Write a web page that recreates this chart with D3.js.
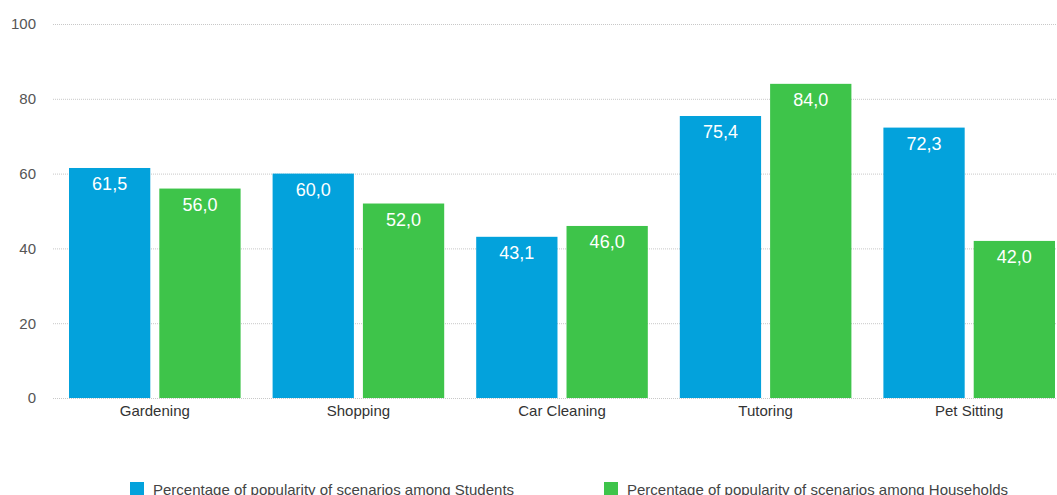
<!DOCTYPE html>
<html>
<head>
<meta charset="utf-8">
<script src="https://cdn.jsdelivr.net/npm/d3@7"></script>
<style>
  html, body { margin: 0; padding: 0; background: #fff; overflow: hidden; }
  svg { display: block; font-family: "Liberation Sans", Arial, Helvetica, sans-serif; }
</style>
</head>
<body>
<svg id="chart" width="1057" height="495"></svg>
<script>
const categories = ["Gardening", "Shopping", "Car Cleaning", "Tutoring", "Pet Sitting"];
const students = [61.5, 60.0, 43.1, 75.4, 72.3];
const households = [56.0, 52.0, 46.0, 84.0, 42.0];
const seriesNames = [
  "Percentage of popularity of scenarios among Students",
  "Percentage of popularity of scenarios among Households"
];
const colors = ["#03a2dc", "#3ec44a"];
const yTicks = [0, 20, 40, 60, 80, 100];

const svg = d3.select("#chart");
const plot = { left: 53, right: 1071, top: 24, bottom: 398 };

const x = d3.scaleBand().domain(categories).range([plot.left, plot.right]).paddingInner(0).paddingOuter(0);
const x1 = d3.scaleBand().domain([0, 1]).range([16, x.bandwidth() - 16]).paddingInner(0.1);
const y = d3.scaleLinear().domain([0, 100]).range([plot.bottom, plot.top]);

// gridlines
svg.append("g").selectAll("line").data(yTicks).join("line")
  .attr("x1", plot.left).attr("x2", 1057)
  .attr("y1", d => y(d) + 0.5).attr("y2", d => y(d) + 0.5)
  .attr("stroke", "#c8c8c8").attr("stroke-width", 1).attr("stroke-dasharray", "1,1");

// y axis labels
const yAxis = d3.axisLeft(y).tickValues(yTicks).tickSize(0).tickPadding(0);
const yg = svg.append("g").attr("transform", `translate(36,0)`).call(yAxis);
yg.select(".domain").remove();
yg.selectAll("text").attr("fill", "#555").style("font-size", "15px");

// x axis labels
const xAxis = d3.axisBottom(x).tickSize(0).tickPadding(0);
const xg = svg.append("g").attr("transform", `translate(0,${plot.bottom + 7})`).call(xAxis);
xg.select(".domain").remove();
xg.selectAll("text").attr("fill", "#333").style("font-size", "15px");

const rows = categories.map((c, i) => ({ c, vals: [students[i], households[i]] }));
const groups = svg.append("g").selectAll("g").data(rows).join("g")
  .attr("transform", d => `translate(${x(d.c)},0)`);

groups.selectAll("rect").data(d => d.vals.map((v, k) => ({ v, k }))).join("rect")
  .attr("x", d => x1(d.k))
  .attr("width", x1.bandwidth())
  .attr("y", d => y(d.v))
  .attr("height", d => y(0) - y(d.v))
  .attr("fill", d => colors[d.k]);

groups.selectAll("text.val").data(d => d.vals.map((v, k) => ({ v, k }))).join("text")
  .attr("class", "val")
  .attr("x", d => x1(d.k) + x1.bandwidth() / 2)
  .attr("y", d => y(d.v) + 22)
  .attr("text-anchor", "middle")
  .attr("fill", "#fff")
  .style("font-size", "18px")
  .text(d => d3.format(".1f")(d.v).replace(".", ","));

// legend
const legendPos = [130, 604];
const lg = svg.append("g").selectAll("g").data(seriesNames).join("g")
  .attr("transform", (d, i) => `translate(${legendPos[i]},482)`);
lg.append("rect").attr("width", 14).attr("height", 14).attr("fill", (d, i) => colors[i]);
lg.append("text").attr("x", 23).attr("y", 12.5).attr("fill", "#444")
  .style("font-size", "15px").text(d => d);
</script>
</body>
</html>
